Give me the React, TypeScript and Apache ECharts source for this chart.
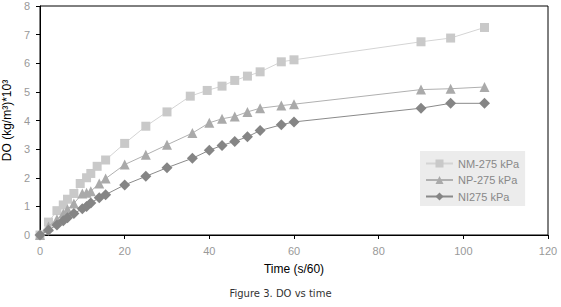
import React, { useEffect, useRef } from "react";
import * as echarts from "echarts";

const seriesNames = ["NM-275 kPa", "NP-275 kPa", "NI275 kPa"];

const nmTime = [0, 2, 4, 5.5, 6.5, 8, 9.5, 11, 12, 13.5, 15.5, 20, 25, 30, 35.5, 39.5, 43, 46, 49, 52, 57, 60, 90, 97, 105];
const nmDO = [0, 0.45, 0.85, 1.05, 1.25, 1.45, 1.8, 2.0, 2.15, 2.4, 2.62, 3.2, 3.8, 4.3, 4.85, 5.05, 5.2, 5.4, 5.55, 5.7, 6.05, 6.12, 6.75, 6.88, 7.25];

const npTime = [0, 2, 4, 5.5, 6.5, 8, 10, 11, 12, 14, 15.5, 20, 25, 30, 36, 40, 43, 46, 49, 52, 57, 60, 90, 97, 105];
const npDO = [0, 0.3, 0.55, 0.75, 0.9, 1.1, 1.45, 1.48, 1.53, 1.8, 1.97, 2.46, 2.8, 3.15, 3.56, 3.92, 4.06, 4.14, 4.3, 4.43, 4.52, 4.57, 5.08, 5.11, 5.17];

const niTime = [0, 2, 4, 5.5, 6.5, 8, 10, 11, 12, 14, 15.5, 20, 25, 30, 36, 40, 43, 46, 49, 52, 57, 60, 90, 97, 105];
const niDO = [0, 0.17, 0.35, 0.5, 0.6, 0.75, 0.92, 1.0, 1.12, 1.3, 1.41, 1.75, 2.05, 2.35, 2.68, 2.96, 3.13, 3.27, 3.43, 3.65, 3.85, 3.95, 4.43, 4.6, 4.6];

const xTitle = "Time (s/60)";
const yTitle = "DO (kg/m³)*10³";
const caption = "Figure 3. DO vs time";

const pair = (t: number[], v: number[]) => t.map((x, i) => [x, v[i]]);

export default function App() {
  const ref = useRef<HTMLDivElement>(null);
  useEffect(() => {
    if (!ref.current) return;
    const chart = echarts.init(ref.current, null, { renderer: "svg" });
    const font = "Liberation Sans";
    chart.setOption({
      animation: false,
      backgroundColor: "#fff",
      textStyle: { fontFamily: font },
      grid: {
        left: 40,
        right: 13,
        top: 6,
        bottom: 72,
        show: true,
        borderColor: "#000",
        borderWidth: 1,
        backgroundColor: "transparent",
        outerBoundsMode: "none",
        containLabel: false,
      },
      legend: {
        orient: "vertical",
        left: 420,
        top: 151,
        padding: [7, 6, 4, 5],
        itemGap: 5.5,
        itemWidth: 27,
        itemHeight: 10,
        backgroundColor: "#ececec",
        textStyle: { color: "#888", fontSize: 11, fontFamily: font },
        data: seriesNames,
      },
      xAxis: {
        type: "value",
        min: 0,
        max: 120,
        interval: 20,
        name: xTitle,
        nameLocation: "middle",
        nameGap: 28,
        nameTextStyle: { color: "#000", fontSize: 12, fontFamily: font },
        axisLine: { onZero: false, lineStyle: { color: "#000", width: 1 } },
        axisTick: { show: true, inside: false, length: 4, lineStyle: { color: "#000" } },
        axisLabel: { color: "#999", fontSize: 11, margin: 10, fontFamily: font },
        splitLine: { show: false },
      },
      yAxis: {
        type: "value",
        min: 0,
        max: 8,
        interval: 1,
        name: yTitle,
        nameLocation: "middle",
        nameGap: 24,
        nameRotate: 90,
        nameTextStyle: { color: "#000", fontSize: 12, fontFamily: font },
        axisLine: { lineStyle: { color: "#000", width: 1 } },
        axisTick: { show: true, inside: false, length: 4, lineStyle: { color: "#000" } },
        axisLabel: { color: "#999", fontSize: 11, margin: 10, fontFamily: font },
        splitLine: { show: false },
      },
      graphic: [
        {
          type: "text",
          left: "center",
          top: 288,
          style: {
            text: caption,
            fontSize: 10,
            fill: "#333",
            fontFamily: "DejaVu Sans",
          },
        },
      ],
      series: [
        {
          name: seriesNames[0],
          type: "line",
          data: pair(nmTime, nmDO),
          symbol: "rect",
          symbolSize: 9,
          itemStyle: { color: "#c9c9c9" },
          lineStyle: { color: "#d4d4d4", width: 1 },
          z: 2,
        },
        {
          name: seriesNames[1],
          type: "line",
          data: pair(npTime, npDO),
          symbol: "triangle",
          symbolSize: 10,
          itemStyle: { color: "#aaaaaa" },
          lineStyle: { color: "#b0b0b0", width: 1 },
          z: 3,
        },
        {
          name: seriesNames[2],
          type: "line",
          data: pair(niTime, niDO),
          symbol: "diamond",
          symbolSize: 11,
          itemStyle: { color: "#858585" },
          lineStyle: { color: "#8a8a8a", width: 1 },
          z: 4,
        },
      ],
    });
    return () => chart.dispose();
  }, []);
  return <div ref={ref} style={{ width: 561, height: 307, position: "absolute", left: 0, top: 0 }} />;
}
